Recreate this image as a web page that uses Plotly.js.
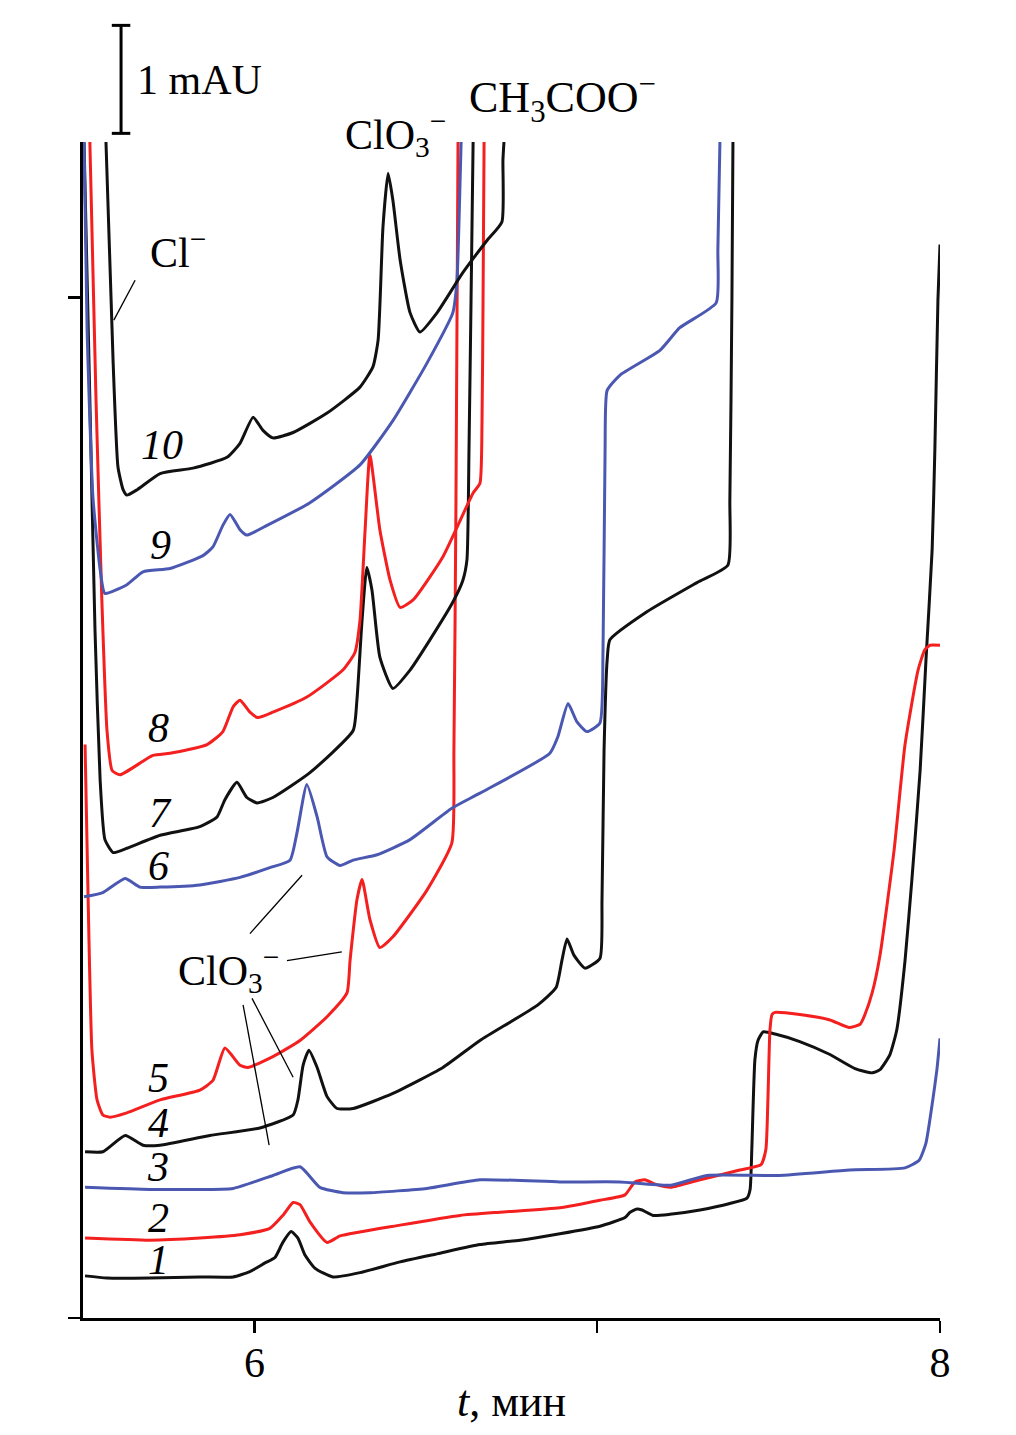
<!DOCTYPE html>
<html>
<head>
<meta charset="utf-8">
<script src="https://cdn.plot.ly/plotly-3.0.1.min.js"></script>
<style>html,body{margin:0;padding:0;background:#fff;}#chart{width:1016px;height:1435px;}</style>
</head>
<body>
<div id="chart"></div>
<script>
// Time (min) and absorbance (mAU)
const t1 = [5.506,5.570,5.695,5.841,5.938,5.987,6.031,6.060,6.083,6.107,6.127,6.148,6.177,6.229,6.308,6.425,6.541,6.658,6.775,6.891,7.008,7.081,7.096,7.116,7.131,7.163,7.212,7.300,7.387,7.437,7.446,7.451,7.460,7.469,7.484,7.519,7.591,7.679,7.752,7.802,7.825,7.854,7.874,7.898,7.918,7.942,7.959,7.977,7.985,7.994,8.000];
const a1 = [0.39,0.37,0.37,0.38,0.38,0.43,0.51,0.56,0.70,0.80,0.74,0.58,0.46,0.38,0.42,0.52,0.60,0.68,0.72,0.78,0.85,0.93,0.98,1.01,1.00,0.95,0.96,1.00,1.06,1.11,1.19,1.56,2.39,2.57,2.65,2.63,2.56,2.44,2.31,2.27,2.30,2.44,2.67,3.31,4.06,5.07,6.09,7.11,8.04,9.43,9.94];

const t2 = [5.506,5.695,5.841,5.958,6.045,6.083,6.113,6.133,6.162,6.212,6.250,6.425,6.600,6.716,6.891,7.008,7.081,7.110,7.139,7.169,7.215,7.300,7.416,7.478,7.492,7.498,7.504,7.510,7.519,7.591,7.679,7.734,7.767,7.781,7.802,7.825,7.866,7.898,7.936,7.956,7.971,8.000];
const a2 = [0.74,0.72,0.74,0.77,0.83,0.95,1.07,1.05,0.89,0.70,0.76,0.86,0.95,0.98,1.02,1.09,1.14,1.26,1.28,1.24,1.21,1.28,1.37,1.42,1.56,2.02,2.67,2.81,2.83,2.81,2.76,2.69,2.72,2.81,3.01,3.36,4.33,5.31,6.00,6.19,6.23,6.23];

const t3 = [5.506,5.695,5.821,5.938,6.054,6.133,6.191,6.258,6.337,6.503,6.658,6.891,7.066,7.215,7.320,7.530,7.737,7.898,7.939,7.959,7.979,7.991,8.000];
const a3 = [1.21,1.19,1.19,1.20,1.32,1.40,1.21,1.16,1.16,1.20,1.28,1.26,1.26,1.23,1.32,1.32,1.37,1.39,1.46,1.62,2.02,2.30,2.59];

const t4 = [5.506,5.558,5.623,5.675,5.725,5.870,6.016,6.113,6.127,6.142,6.159,6.183,6.212,6.241,6.288,6.404,6.550,6.658,6.827,6.880,6.897,6.912,6.932,6.964,7.008,7.014,7.020,7.029,7.037,7.145,7.291,7.381,7.387,7.393,7.396];
const a4 = [1.54,1.54,1.69,1.60,1.60,1.69,1.76,1.88,2.02,2.34,2.48,2.32,2.05,1.94,1.94,2.08,2.32,2.57,2.90,3.06,3.31,3.51,3.36,3.24,3.33,3.87,5.26,6.09,6.28,6.54,6.81,6.97,7.57,9.43,10.89];

const t5 = [5.506,5.515,5.526,5.541,5.558,5.579,5.628,5.725,5.841,5.879,5.914,5.958,5.981,6.054,6.133,6.212,6.270,6.279,6.299,6.314,6.337,6.366,6.404,6.503,6.576,6.582,6.588,6.594];
const a5 = [5.31,3.87,2.48,2.02,1.88,1.86,1.90,2.02,2.11,2.20,2.50,2.34,2.32,2.42,2.57,2.79,3.01,3.31,3.87,4.06,3.69,3.43,3.53,3.96,4.40,5.26,7.57,10.89];

const t6 = [5.503,5.558,5.623,5.666,5.725,5.841,5.958,6.045,6.104,6.124,6.153,6.183,6.212,6.250,6.288,6.358,6.454,6.576,6.658,6.862,6.885,6.915,6.941,6.970,7.008,7.017,7.023,7.029,7.066,7.183,7.241,7.347,7.352,7.358];
const a6 = [3.90,3.94,4.07,3.99,3.99,4.01,4.08,4.17,4.24,4.49,4.94,4.64,4.27,4.19,4.24,4.29,4.43,4.72,4.86,5.23,5.38,5.69,5.52,5.43,5.51,6.19,8.04,8.59,8.73,8.96,9.17,9.40,9.89,10.89];

const t7 = [5.503,5.520,5.535,5.550,5.564,5.588,5.628,5.725,5.841,5.891,5.914,5.949,5.978,6.008,6.054,6.162,6.288,6.299,6.314,6.328,6.343,6.366,6.404,6.454,6.512,6.579,6.608,6.620,6.626,6.632,6.638];
const a7 = [10.89,8.50,6.37,4.98,4.43,4.31,4.35,4.47,4.55,4.64,4.80,4.96,4.82,4.77,4.82,5.05,5.44,5.72,6.46,6.95,6.74,6.12,5.83,6.00,6.28,6.63,6.83,7.02,8.04,9.43,10.89];

const t8 = [5.520,5.538,5.555,5.570,5.585,5.608,5.704,5.754,5.862,5.908,5.938,5.958,5.987,6.010,6.054,6.153,6.258,6.293,6.308,6.323,6.337,6.366,6.396,6.425,6.463,6.550,6.638,6.658,6.664,6.667,6.670];
const a8 = [10.89,8.50,6.65,5.44,5.07,5.03,5.21,5.23,5.31,5.43,5.66,5.72,5.61,5.56,5.61,5.75,6.00,6.16,6.46,7.30,7.99,7.30,6.83,6.58,6.65,7.05,7.64,7.73,8.31,9.43,10.89];

const t9 = [5.503,5.512,5.529,5.550,5.564,5.628,5.675,5.754,5.850,5.879,5.908,5.929,5.958,5.978,6.037,6.162,6.308,6.404,6.503,6.579,6.591,6.597,6.603];
const a9 = [10.89,9.15,7.60,6.93,6.71,6.79,6.91,6.94,7.06,7.14,7.34,7.44,7.30,7.25,7.34,7.55,7.90,8.31,8.84,9.31,9.61,10.17,10.89];

const t10 = [5.567,5.588,5.602,5.617,5.628,5.658,5.725,5.821,5.920,5.958,5.996,6.025,6.054,6.113,6.212,6.308,6.346,6.361,6.375,6.390,6.404,6.425,6.454,6.483,6.533,6.608,6.679,6.722,6.725,6.728];
const a10 = [10.89,8.84,7.88,7.67,7.62,7.67,7.82,7.87,7.97,8.10,8.34,8.22,8.15,8.20,8.38,8.62,8.81,9.06,10.10,10.60,10.35,9.80,9.31,9.13,9.31,9.68,9.98,10.15,10.72,10.89];

const curveLabels = ['1','2','3','4','5','6','7','8','9','10'];
const xTicks = [6, 7, 8];
const xTickText = ['6', '', '8'];
const xRange = [5.5, 8.0];
const yRange = [0, 10.89];
const scaleBarStart = 10.97; // mAU
const scaleBarLength = 1;    // 1 mAU

const BLACK = '#111111', RED = '#f41f1f', BLUE = '#4a58b2';
const FONT = 'Liberation Serif, Times New Roman, serif';

const series = [
  [t1, a1, BLACK], [t2, a2, RED], [t3, a3, BLUE], [t4, a4, BLACK], [t5, a5, RED],
  [t6, a6, BLUE], [t7, a7, BLACK], [t8, a8, RED], [t9, a9, BLUE], [t10, a10, BLACK]
];
const traces = series.map((s, i) => ({
  x: s[0], y: s[1], type: 'scatter', mode: 'lines', name: curveLabels[i],
  line: {color: s[2], width: 3, shape: 'spline', smoothing: 0.5}, showlegend: false, hoverinfo: 'skip'
}));

const yToPaper = v => (v - yRange[0]) / (yRange[1] - yRange[0]);

// label positions for curve numbers
const labelPos = [
  [5.719, 0.54], [5.719, 0.93], [5.719, 1.40], [5.719, 1.81], [5.719, 2.22],
  [5.719, 4.19], [5.725, 4.68], [5.719, 5.46], [5.725, 7.16], [5.730, 8.08]
];
const txt = (x, y, text, yref, anchor, size) => ({
  x, y: yref === 'paper' ? yToPaper(y) : y, xref: 'x', yref: yref, text, showarrow: false,
  xanchor: anchor || 'center', yanchor: 'middle', font: {family: FONT, size: size || 42, color: '#000'}
});
const annotations = curveLabels.map((lbl, i) => txt(labelPos[i][0], labelPos[i][1], '<i>' + lbl + '</i>', 'y'));
annotations.push(
  txt(5.652, 11.46, '1 mAU', 'paper', 'left'),
  txt(6.413, 10.96, 'ClO<sub>3</sub><sup>−</sup>', 'paper'),
  txt(6.900, 11.30, 'CH<sub>3</sub>COO<sup>−</sup>', 'paper', 'center', 44),
  txt(5.777, 9.89, 'Cl<sup>−</sup>', 'y'),
  txt(5.923, 3.22, 'ClO<sub>3</sub><sup>−</sup>', 'y')
);

const leader = (x0, y0, x1, y1) => ({type: 'line', xref: 'x', yref: 'y', x0, y0, x1, y1, line: {color: '#000', width: 1.3}});
const sbX = 5.611, sbCap = 0.027;
const shapes = [
  leader(5.652, 9.61, 5.590, 9.24),
  leader(6.139, 4.10, 5.987, 3.56),
  leader(6.095, 3.31, 6.255, 3.39),
  leader(5.993, 2.96, 6.113, 2.23),
  leader(5.967, 2.90, 6.043, 1.60),
  // 1 mAU scale bar
  {type: 'line', xref: 'x', yref: 'paper', x0: sbX, x1: sbX, y0: yToPaper(scaleBarStart), y1: yToPaper(scaleBarStart + scaleBarLength), line: {color: '#000', width: 3}},
  {type: 'line', xref: 'x', yref: 'paper', x0: sbX - sbCap, x1: sbX + sbCap, y0: yToPaper(scaleBarStart), y1: yToPaper(scaleBarStart), line: {color: '#000', width: 3}},
  {type: 'line', xref: 'x', yref: 'paper', x0: sbX - sbCap, x1: sbX + sbCap, y0: yToPaper(scaleBarStart + scaleBarLength), y1: yToPaper(scaleBarStart + scaleBarLength), line: {color: '#000', width: 3}}
];

const layout = {
  width: 1016, height: 1435,
  margin: {l: 83, r: 76, t: 142, b: 117},
  paper_bgcolor: '#fff', plot_bgcolor: '#fff',
  font: {family: FONT, color: '#000'},
  showlegend: false,
  xaxis: {
    range: xRange, tickvals: xTicks, ticktext: xTickText, ticks: 'outside', ticklen: 12, tickwidth: 2.5,
    tickcolor: '#000', showline: true, linecolor: '#000', linewidth: 3, showgrid: false, zeroline: false,
    tickfont: {family: FONT, size: 42, color: '#000'}, ticklabelstandoff: -6,
    title: {text: '<i>t</i>, мин', font: {family: FONT, size: 44, color: '#000'}, standoff: 0}
  },
  yaxis: {
    range: yRange, tickvals: [0, 9.45], ticks: 'outside', ticklen: 12, tickwidth: 2.5, tickcolor: '#000',
    showticklabels: false, showline: true, linecolor: '#000', linewidth: 3, showgrid: false, zeroline: false
  },
  annotations, shapes
};

Plotly.newPlot('chart', traces, layout, {displayModeBar: false, staticPlot: true});
</script>
</body>
</html>
